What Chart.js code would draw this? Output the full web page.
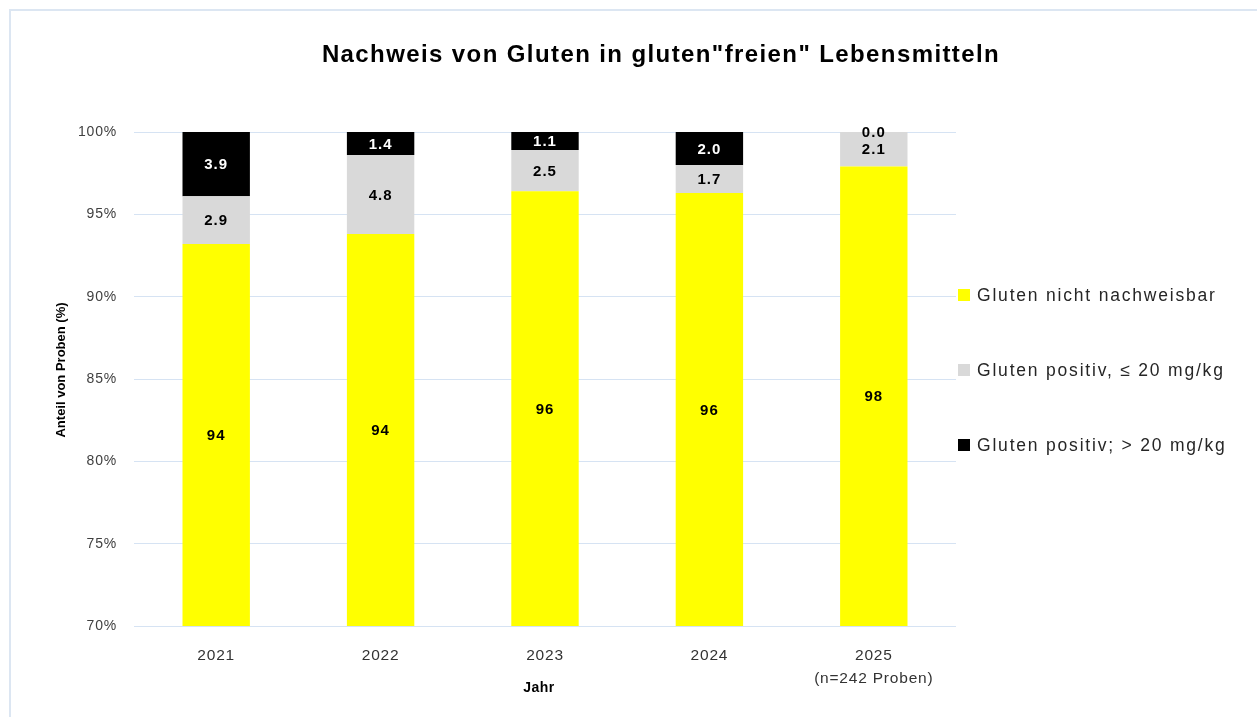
<!DOCTYPE html>
<html><head><meta charset="utf-8">
<script src="https://cdn.jsdelivr.net/npm/chart.js@4.4.1/dist/chart.umd.min.js"></script>
<style>html,body{margin:0;padding:0;background:#fff;overflow:hidden}#wrap{position:relative;width:1257px;height:717px}</style>
</head><body><div id="wrap"><canvas id="c"></canvas></div>
<script>
const years = ['2021', '2022', '2023', '2024', ['2025', '(n=242 Proben)']];
const seriesNames = ['Gluten nicht nachweisbar', 'Gluten positiv, ≤ 20 mg/kg', 'Gluten positiv; > 20 mg/kg'];
const notDetected = [93.2, 93.8, 96.4, 96.3, 97.9];
const notDetectedLabels = ['94', '94', '96', '96', '98'];
const positiveLow = [2.9, 4.8, 2.5, 1.7, 2.1];
const positiveHigh = [3.9, 1.4, 1.1, 2.0, 0.0];
const yMin = 70, yMax = 100, yStep = 5;
const chartTitle = 'Nachweis von Gluten in gluten"freien" Lebensmitteln';
const yTitle = 'Anteil von Proben (%)';
const xTitle = 'Jahr';
const colors = ['#FFFF00', '#D9D9D9', '#000000'];

const FONT = "'Liberation Sans', Arial, sans-serif";

const decor = {
  id: 'decor',
  beforeDraw(chart) {
    const ctx = chart.ctx;
    ctx.save();
    ctx.fillStyle = '#dce6f2';
    ctx.fillRect(9, 9, chart.width - 9, 2);
    ctx.fillRect(9, 9, 2, chart.height - 9);
    ctx.restore();
    ctx.letterSpacing = '0.8px';
  },
  afterDatasetsDraw(chart) {
    const ctx = chart.ctx, ca = chart.chartArea;
    ctx.save();
    ctx.letterSpacing = '1px';
    ctx.font = 'bold 15px ' + FONT;
    ctx.textAlign = 'center';
    ctx.textBaseline = 'middle';
    chart.data.datasets.forEach((ds, di) => {
      const meta = chart.getDatasetMeta(di);
      meta.data.forEach((bar, i) => {
        const p = bar.getProps(['x', 'y', 'base'], true);
        const top = Math.max(Math.min(p.y, p.base), ca.top);
        const bottom = Math.min(Math.max(p.y, p.base), ca.bottom);
        const cy = (top + bottom) / 2;
        const txt = ds.labelTexts ? ds.labelTexts[i] : Number(ds.data[i]).toFixed(1);
        const onDark = di === 2 && (bottom - top) > 1;
        ctx.fillStyle = onDark ? '#ffffff' : '#000000';
        ctx.fillText(txt, p.x, cy + 1);
      });
    });
    ctx.restore();
  },
  afterDraw(chart) {
    const ctx = chart.ctx;
    ctx.save();
    ctx.letterSpacing = '1.4px';
    ctx.font = 'bold 24px ' + FONT;
    ctx.fillStyle = '#000';
    ctx.textAlign = 'center';
    ctx.textBaseline = 'middle';
    ctx.fillText(chartTitle, 661, 55);
    ctx.letterSpacing = '0.5px';
    ctx.font = 'bold 14px ' + FONT;
    ctx.fillText(xTitle, 539, 688);
    ctx.save();
    ctx.letterSpacing = '0px';
    ctx.font = 'bold 13px ' + FONT;
    ctx.translate(61, 370);
    ctx.rotate(-Math.PI / 2);
    ctx.fillText(yTitle, 0, 0);
    ctx.restore();
    ctx.letterSpacing = '1.8px';
    ctx.font = '17.5px ' + FONT;
    ctx.textAlign = 'left';
    const ys = [295, 370, 445];
    chart.data.datasets.forEach((ds, i) => {
      ctx.fillStyle = ds.backgroundColor;
      ctx.fillRect(958, ys[i] - 6, 12, 12);
      ctx.fillStyle = '#262626';
      ctx.fillText(ds.label, 977, ys[i] + 1);
    });
    ctx.restore();
  }
};

new Chart(document.getElementById('c'), {
  type: 'bar',
  data: {
    labels: years,
    datasets: [
      { label: seriesNames[0], data: notDetected, labelTexts: notDetectedLabels, backgroundColor: colors[0] },
      { label: seriesNames[1], data: positiveLow, backgroundColor: colors[1] },
      { label: seriesNames[2], data: positiveHigh, backgroundColor: colors[2] }
    ]
  },
  options: {
    responsive: true,
    maintainAspectRatio: false,
    animation: false,
    layout: { padding: { top: 132, right: 301, left: 0, bottom: 0 } },
    datasets: { bar: { barPercentage: 0.41, categoryPercentage: 1, borderWidth: 0 } },
    plugins: { legend: { display: false }, title: { display: false }, tooltip: { enabled: false } },
    scales: {
      x: {
        stacked: true,
        grid: { display: false },
        border: { display: false },
        ticks: { color: '#333333', font: { family: FONT, size: 15.5, lineHeight: 1.5 }, padding: 10, maxRotation: 0 },
        afterFit(s) { s.height = 91; }
      },
      y: {
        stacked: true,
        min: yMin, max: yMax,
        grid: { color: '#d6e3f3', drawTicks: false },
        border: { display: false },
        ticks: { stepSize: yStep, color: '#404040', padding: 17, font: { family: FONT, size: 14 }, callback: v => v + '%' },
        afterFit(s) { s.width = 134; }
      }
    }
  },
  plugins: [decor]
});
</script>
</body></html>
